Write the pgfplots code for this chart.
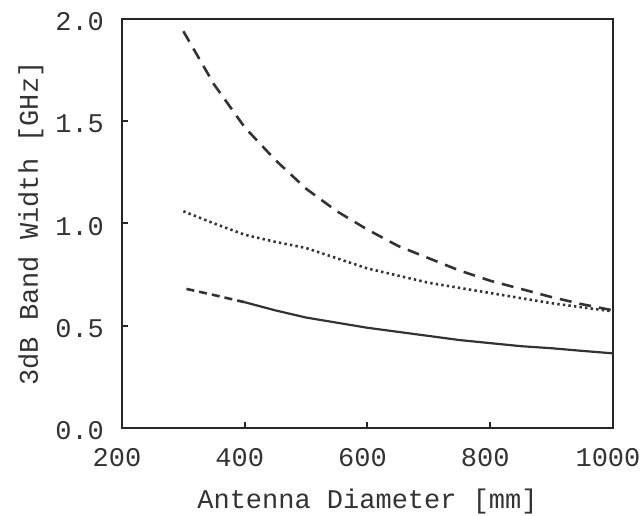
\documentclass[border=0pt]{standalone}
\usepackage{pgfplots}
\pgfplotsset{compat=1.18}
\usepackage{fontspec}
\setmainfont{Liberation Mono}

\begin{document}
\begin{tikzpicture}
\begin{axis}[
    scale only axis,
    width=245.5pt, height=204.5pt,
    xmin=200, xmax=1000, ymin=0, ymax=2.0,
    xtick={200,400,600,800,1000},
    ytick={0,0.5,1.0,1.5,2.0},
    xtick pos=left, ytick pos=left,
    tick align=inside, major tick length=3pt,
    axis line style={black!85, line width=1.1pt},
    every tick/.style={black!85, line width=1pt},
    font=\fontsize{13.5}{15}\selectfont,
    /pgf/number format/assume math mode=true,
    x tick label style={/pgf/number format/1000 sep={}, yshift=-6.5pt, xshift=-2.5pt},
    y tick label style={/pgf/number format/fixed, /pgf/number format/fixed zerofill,
        /pgf/number format/precision=1, xshift=-5.5pt, yshift=-1.5pt},
    tick label style={text=black!80},
    xlabel={Antenna Diameter [mm]},
    ylabel={3dB Band Width [GHz]},
    label style={text=black!80},
    xlabel style={yshift=-4.5pt},
    ylabel style={yshift=-1pt},
]
% upper curve, long dashes
\addplot[black!80, line width=1.3pt, dash pattern=on 6pt off 4pt] coordinates {
    (300,1.94) (350,1.68) (400,1.47) (450,1.31) (500,1.17) (550,1.06)
    (600,0.97) (650,0.89) (700,0.83) (750,0.77) (800,0.72) (850,0.68)
    (900,0.64) (950,0.605) (1000,0.575)
};
% middle curve, dotted
\addplot[black!80, line width=1.3pt, dash pattern=on 1.2pt off 1.6pt] coordinates {
    (300,1.06) (350,1.00) (400,0.945) (450,0.91) (500,0.88) (550,0.83)
    (600,0.78) (650,0.745) (700,0.71) (750,0.685) (800,0.66) (850,0.635)
    (900,0.61) (950,0.59) (1000,0.57)
};
% lower curve, dashed part then solid
\addplot[black!80, line width=1.3pt, dash pattern=on 4pt off 2.5pt] coordinates {
    (305,0.68) (350,0.65) (400,0.615)
};
\addplot[black!80, line width=1.1pt] coordinates {
    (400,0.615) (450,0.575) (500,0.54) (550,0.515) (600,0.49) (650,0.47)
    (700,0.45) (750,0.43) (800,0.415) (850,0.40) (900,0.39) (950,0.377)
    (1000,0.365)
};
\end{axis}
\pgfresetboundingbox
\path (current axis.south west) ++(-61pt,-44pt) coordinate (bl);
\path (current axis.north east) ++(14.5pt,9.5pt) coordinate (tr);
\path (bl) rectangle (tr);
\end{tikzpicture}
\end{document}
